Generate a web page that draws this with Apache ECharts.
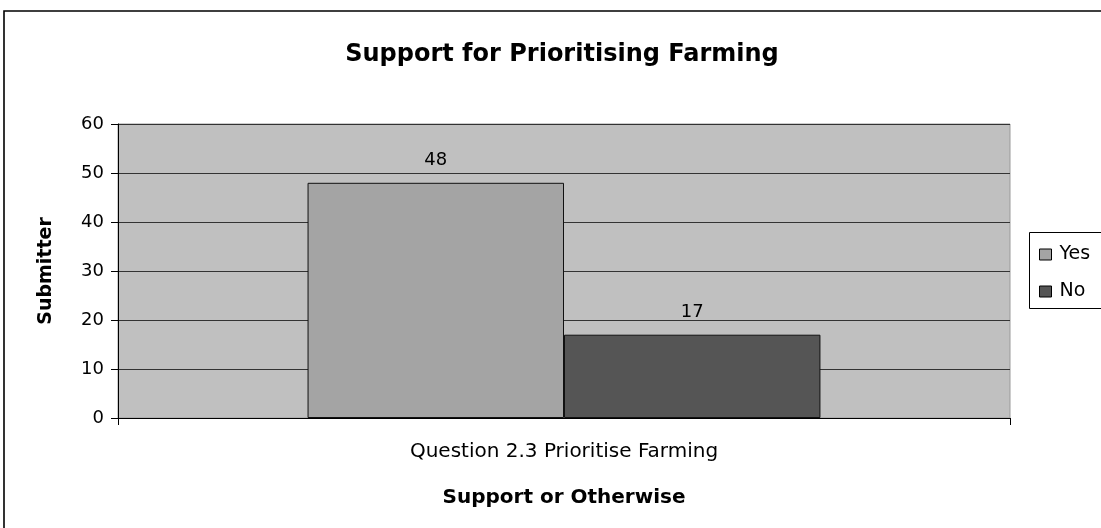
<!DOCTYPE html>
<html>
<head>
<meta charset="utf-8">
<script src="https://cdn.jsdelivr.net/npm/echarts@6/dist/echarts.min.js"></script>
<style>
  html, body { margin: 0; padding: 0; background: #fff; }
  #chart { width: 1101px; height: 528px; }
</style>
</head>
<body>
<div id="chart"></div>
<script>
// Survey responses on prioritising farming
const categories = ['Question 2.3 Prioritise Farming'];
const yesValues = [48];
const noValues = [17];
const seriesNames = ['Yes', 'No'];

const FONT = '"DejaVu Sans", "Liberation Sans", Arial, sans-serif';

const chart = echarts.init(document.getElementById('chart'));

chart.setOption({
  backgroundColor: '#ffffff',
  animation: false,
  title: {
    text: 'Support for Prioritising Farming',
    left: 557,
    textAlign: 'center',
    top: 38,
    textStyle: { fontFamily: FONT, fontSize: 24, fontWeight: 'bold', color: '#000' }
  },
  graphic: [
    // outer chart frame
    {
      type: 'rect',
      shape: { x: 4, y: 11, width: 1200, height: 700 },
      style: { fill: 'none', stroke: '#000', lineWidth: 1.6 },
      z: 0
    },
    // legend frame
    {
      type: 'rect',
      shape: { x: 1029.5, y: 232.5, width: 120, height: 76 },
      style: { fill: '#fff', stroke: '#000', lineWidth: 1 },
      z: 1
    }
  ],
  legend: {
    orient: 'vertical',
    left: 1034,
    top: 239,
    itemWidth: 12,
    itemHeight: 11,
    itemGap: 16,
    icon: 'rect',
    itemStyle: { borderColor: '#000', borderWidth: 1 },
    textStyle: { fontFamily: FONT, fontSize: 19, color: '#000', lineHeight: 21, padding: [0, 0, 0, 3] },
    data: seriesNames,
    z: 5
  },
  grid: {
    left: 118,
    top: 124,
    width: 892,
    height: 294,
    show: true,
    backgroundColor: '#c0c0c0',
    borderColor: '#9a9a9a',
    borderWidth: 1
  },
  xAxis: {
    type: 'category',
    data: categories,
    name: 'Support or Otherwise',
    nameLocation: 'middle',
    nameGap: 70,
    nameTextStyle: { fontFamily: FONT, fontSize: 20, fontWeight: 'bold', color: '#000' },
    axisLine: { lineStyle: { color: '#000', width: 1 } },
    axisTick: { show: true, length: 7, lineStyle: { color: '#000' } },
    axisLabel: { fontFamily: FONT, fontSize: 20, color: '#000', margin: 24 }
  },
  yAxis: {
    type: 'value',
    min: 0,
    max: 60,
    interval: 10,
    name: 'Submitter',
    nameLocation: 'middle',
    nameRotate: 90,
    nameGap: 62,
    nameTextStyle: { fontFamily: FONT, fontSize: 19, fontWeight: 'bold', color: '#000' },
    axisLine: { show: true, lineStyle: { color: '#000', width: 1 } },
    axisTick: { show: true, length: 7, lineStyle: { color: '#000' } },
    axisLabel: { fontFamily: FONT, fontSize: 18, color: '#000', margin: 14 },
    splitLine: { show: true, lineStyle: { color: '#333', width: 1 } }
  },
  series: [
    {
      name: seriesNames[0],
      type: 'bar',
      data: yesValues,
      barGap: '0%',
      barCategoryGap: '42.5%',
      itemStyle: { color: '#a4a4a4', borderColor: '#111', borderWidth: 1 },
      label: { show: true, position: 'top', distance: 13, fontFamily: FONT, fontSize: 18, color: '#000' }
    },
    {
      name: seriesNames[1],
      type: 'bar',
      data: noValues,
      barGap: '0%',
      barCategoryGap: '42.5%',
      itemStyle: { color: '#555555', borderColor: '#111', borderWidth: 1 },
      label: { show: true, position: 'top', distance: 13, fontFamily: FONT, fontSize: 18, color: '#000' }
    }
  ]
});
</script>
</body>
</html>
